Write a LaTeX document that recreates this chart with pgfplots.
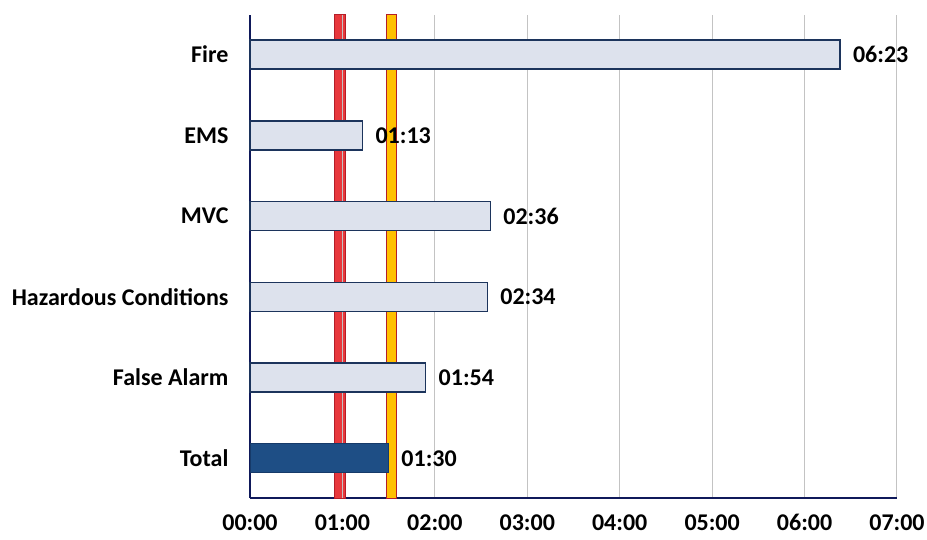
\documentclass[border=0pt]{standalone}
\usepackage{pgfplots}
\pgfplotsset{compat=1.18}
\usepackage{fontspec}
\setmainfont{Carlito}

\definecolor{barfill}{RGB}{221,226,237}
\definecolor{baredge}{RGB}{28,52,92}
\definecolor{totalfill}{RGB}{30,78,133}
\definecolor{totaledge}{RGB}{22,58,105}
\definecolor{axisnavy}{RGB}{15,25,90}
\definecolor{redline}{RGB}{232,56,60}
\definecolor{rededge}{RGB}{180,30,40}
\definecolor{goldline}{RGB}{255,192,0}
\definecolor{gridgrey}{RGB}{195,195,195}

\newcommand{\chartfont}{\fontsize{24}{28}\selectfont\bfseries}

\begin{document}
\begin{tikzpicture}[x=1pt,y=1pt]
\useasboundingbox (0,0) rectangle (927,539);
\begin{axis}[
  at={(250pt,41pt)}, anchor=south west,
  scale only axis, width=647pt, height=483pt,
  xmin=0, xmax=7, ymin=-0.49, ymax=5.49,
  axis x line*=bottom, axis y line*=left,
  axis line style={axisnavy, line width=1.5pt, -},
  xtick={0,...,7},
  xticklabels={00:00,01:00,02:00,03:00,04:00,05:00,06:00,07:00},
  ytick={0,...,5},
  yticklabels={Total,False Alarm,Hazardous Conditions,MVC,EMS,Fire},
  major tick length=0pt,
  xmajorgrids, grid style={gridgrey, line width=1pt},
  tick label style={font=\chartfont},
  xticklabel style={yshift=-13pt},
  yticklabel style={xshift=-18pt},
  clip=false,
]
% target response-time bands
\addplot[fill=redline, draw=rededge, line width=1pt]
  coordinates {(0.909,-0.49) (1.028,-0.49) (1.028,5.49) (0.909,5.49)} -- cycle;
\addplot[fill=goldline, draw=rededge, line width=1pt]
  coordinates {(1.479,-0.49) (1.585,-0.49) (1.585,5.49) (1.479,5.49)} -- cycle;
% 01:00 grid line stays visible over the red band
\draw[gridgrey, line width=1pt] (axis cs:1,-0.49) -- (axis cs:1,5.49);

% average times by incident type (minutes)
\addplot[xbar, bar width=29pt, bar shift=0pt,
  fill=barfill, draw=baredge, line width=1.5pt,
  nodes near coords, point meta=explicit symbolic,
  nodes near coords style={anchor=west, font=\chartfont, black, xshift=9pt}]
  coordinates {(6.383,5) [06:23] (1.217,4) [01:13] (2.600,3) [02:36]
               (2.567,2) [02:34] (1.900,1) [01:54]};
\addplot[xbar, bar width=29pt, bar shift=0pt,
  fill=totalfill, draw=totaledge, line width=1pt,
  nodes near coords, point meta=explicit symbolic,
  nodes near coords style={anchor=west, font=\chartfont, black, xshift=9pt}]
  coordinates {(1.500,0) [01:30]};
\end{axis}
\end{tikzpicture}
\end{document}
